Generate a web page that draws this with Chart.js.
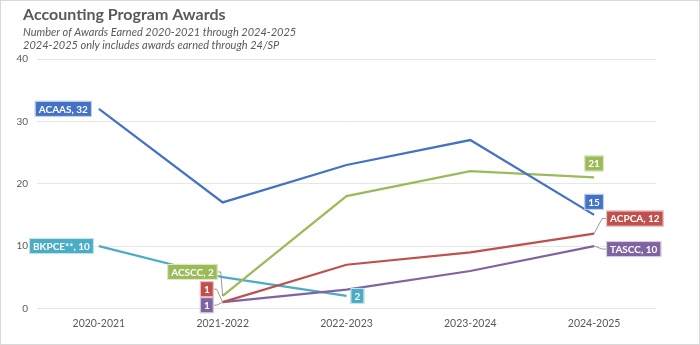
<!DOCTYPE html>
<html>
<head>
<meta charset="utf-8">
<script src="https://cdn.jsdelivr.net/npm/chart.js@4.4.1/dist/chart.umd.min.js"></script>
<style>
  html, body { margin: 0; padding: 0; background: #fff; }
  #wrap { width: 700px; height: 345px; position: relative; }
</style>
</head>
<body>
<div id="wrap"><canvas id="awards_canvas"></canvas></div>
<script>
const years = ['2020-2021', '2021-2022', '2022-2023', '2023-2024', '2024-2025'];

const acaas = [32, 17, 23, 27, 15];
const acscc = [null, 2, 18, 22, 21];
const acpca = [null, 1, 7, 9, 12];
const tascc = [null, 1, 3, 6, 10];
const bkpce = [10, 5, 2, null, null];

const seriesNames = ['ACAAS', 'ACSCC', 'ACPCA', 'TASCC', 'BKPCE**'];
const seriesColors = ['#4472c4', '#9bbb59', '#c0504d', '#8064a2', '#4bacc6'];

const titleText = 'Accounting Program Awards';
const subtitleLines = ['Number of Awards Earned 2020-2021 through 2024-2025',
                       '2024-2025 only includes awards earned through 24/SP'];

const fontFam = 'Lato, "Open Sans", sans-serif';

// which points get a label box, and where the box sits relative to the point
const labelSpecs = [
    { ds: 0, i: 0, name: true,  align: 'left',   dx: -7,  dy: 0 },
    { ds: 4, i: 0, name: true,  align: 'left',   dx: -5,  dy: 0 },
    { ds: 1, i: 1, name: true,  align: 'left',   dx: -5,  dy: -24, leader: true },
    { ds: 2, i: 1, name: false, align: 'left',   dx: -9,  dy: -13, leader: true },
    { ds: 3, i: 1, name: false, align: 'left',   dx: -9,  dy: 3,   leader: true },
    { ds: 4, i: 2, name: false, align: 'right',  dx: 4,   dy: 0 },
    { ds: 1, i: 4, name: false, align: 'center', dx: 0,   dy: -14 },
    { ds: 0, i: 4, name: false, align: 'center', dx: 0,   dy: -13 },
    { ds: 2, i: 4, name: true,  align: 'right',  dx: 12,  dy: -15, leader: true },
    { ds: 3, i: 4, name: true,  align: 'right',  dx: 12,  dy: 3,   leader: true }
];

const pointLabels = {
    id: 'pointLabels',
    afterDatasetsDraw(chart) {
        const c = chart.ctx;
        c.save();
        c.font = 'bold 10px ' + fontFam;
        c.textBaseline = 'middle';
        labelSpecs.forEach(s => {
            const pt = chart.getDatasetMeta(s.ds).data[s.i];
            const ds = chart.data.datasets[s.ds];
            const val = ds.data[s.i];
            const text = s.name ? ds.label + ', ' + val : String(val);
            const w = c.measureText(text).width + 8;
            const h = 16;
            let left;
            if (s.align === 'left') left = pt.x + s.dx - w;
            else if (s.align === 'right') left = pt.x + s.dx;
            else left = pt.x + s.dx - w / 2;
            const cy = pt.y + s.dy;
            if (s.leader) {
                const edgeX = s.align === 'left' ? left + w : left;
                const step = s.align === 'left' ? 3 : -4;
                c.strokeStyle = '#7f7f7f';
                c.lineWidth = 0.8;
                c.beginPath();
                c.moveTo(edgeX, cy);
                c.lineTo(edgeX + step, cy);
                c.lineTo(pt.x, pt.y);
                c.stroke();
            }
            c.fillStyle = ds.borderColor;
            c.fillRect(left, cy - h / 2, w, h);
            c.strokeStyle = 'rgba(255,255,255,0.7)';
            c.lineWidth = 1;
            c.strokeRect(left + 0.5, cy - h / 2 + 0.5, w - 1, h - 1);
            c.fillStyle = '#ffffff';
            c.textAlign = 'center';
            c.fillText(text, left + w / 2, cy + 0.5);
        });
        c.restore();
    }
};

// white background, heading block and the thin outer frame
const frame = {
    id: 'frame',
    beforeDraw(chart) {
        const c = chart.ctx;
        c.save();
        c.fillStyle = '#ffffff';
        c.fillRect(0, 0, chart.width, chart.height);
        c.fillStyle = '#595959';
        c.textAlign = 'left';
        c.textBaseline = 'alphabetic';
        c.font = 'bold 16px ' + fontFam;
        c.fillText(titleText, 23, 19.5);
        c.font = 'italic 11px ' + fontFam;
        subtitleLines.forEach((line, k) => c.fillText(line, 23, 35.5 + k * 13));
        c.restore();
    },
    afterDraw(chart) {
        const c = chart.ctx;
        c.save();
        c.strokeStyle = '#d9d9d9';
        c.lineWidth = 1;
        c.strokeRect(0.5, 0.5, chart.width - 1, chart.height - 1);
        c.restore();
    }
};

const allSeries = [acaas, acscc, acpca, tascc, bkpce];

const data = {
    labels: years,
    datasets: allSeries.map((vals, k) => ({
        label: seriesNames[k],
        data: vals,
        borderColor: seriesColors[k],
        backgroundColor: seriesColors[k],
        borderWidth: 2.25,
        pointRadius: 0,
        tension: 0,
        spanGaps: false
    }))
};

const awardsChart = new Chart(document.getElementById('awards_canvas'), {
    type: 'line',
    data: data,
    plugins: [frame, pointLabels],
    options: {
        responsive: true,
        maintainAspectRatio: false,
        animation: false,
        layout: {
            padding: { left: 14, right: 44, top: 59, bottom: 14 }
        },
        plugins: {
            legend: { display: false },
            tooltip: { enabled: false },
            title: { display: false }
        },
        scales: {
            x: {
                offset: true,
                grid: { display: false },
                border: { display: false },
                ticks: {
                    color: '#595959',
                    font: { family: fontFam, size: 10.5 },
                    padding: 1
                }
            },
            y: {
                min: 0,
                max: 40,
                grid: { color: '#e6e6e6', drawTicks: false },
                border: { display: false },
                ticks: {
                    stepSize: 10,
                    color: '#595959',
                    font: { family: fontFam, size: 10 },
                    padding: 9
                },
                afterFit(scale) { scale.width = 23; }
            }
        }
    }
});
</script>
</body>
</html>
